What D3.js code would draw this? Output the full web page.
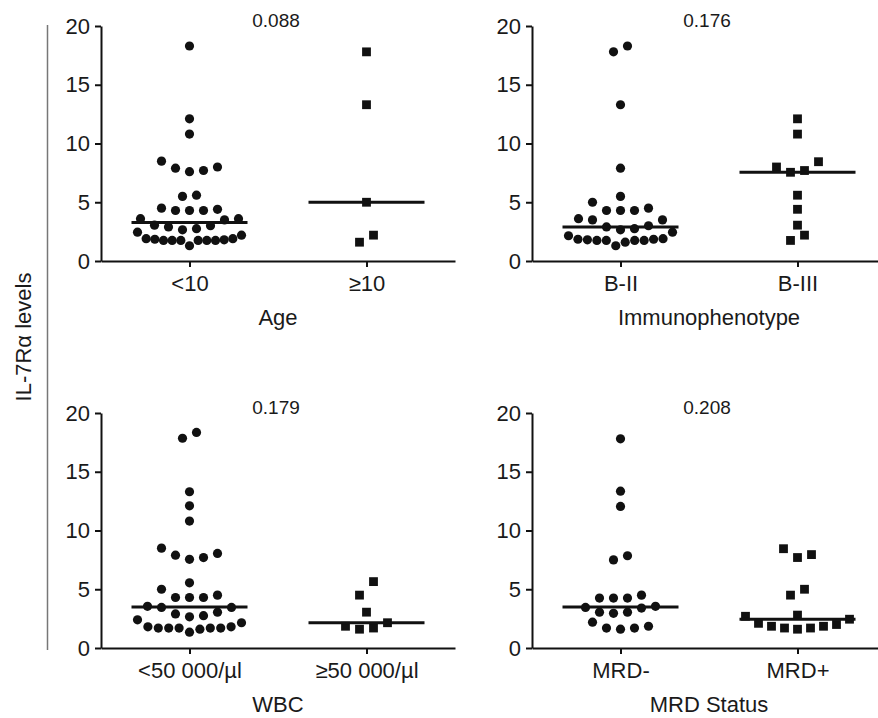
<!DOCTYPE html>
<html>
<head>
<meta charset="utf-8">
<script src="https://cdn.jsdelivr.net/npm/d3@7"></script>
<style>
  body { margin: 0; background: #fff; }
  svg text { font-family: "Liberation Sans", Arial, sans-serif; fill: #1a1a1a; }
</style>
</head>
<body>
<svg id="chart"></svg>
<script>
// values (IL-7Ra levels)
const ageCats = ["<10", "\u226510"];
const ageLt10 = [18.3, 12.1, 10.8, 8.5, 7.9, 7.6, 7.7, 8.0, 5.6, 5.5, 4.5, 4.3, 4.3, 4.3, 4.4,
  3.6, 3.6, 3.0, 2.75, 2.65, 2.9, 3.05, 3.5, 2.45, 1.9, 1.8, 1.75, 1.75, 1.75, 1.3, 1.75,
  1.75, 1.75, 1.85, 1.9, 2.2];
const ageGe10 = [17.8, 13.3, 5.0, 1.6, 2.2];

const phenoCats = ["B-II", "B-III"];
const phenoBII = [18.3, 17.8, 13.3, 7.9, 5.5, 5.0, 4.3, 4.3, 4.3, 4.5, 3.5, 3.0, 2.75, 2.65,
  2.9, 3.5, 3.6, 2.45, 2.15, 1.85, 1.8, 1.75, 1.75, 1.3, 1.6, 1.75, 1.75, 1.85, 1.9];
const phenoBIII = [12.1, 10.8, 8.45, 7.7, 7.55, 8.0, 5.6, 4.4, 3.05, 1.75, 2.2];

const wbcCats = ["<50 000/\u00b5l", "\u226550 000/\u00b5l"];
const wbcLow = [18.35, 17.85, 13.3, 12.1, 10.8, 8.5, 7.9, 7.55, 7.7, 8.05, 5.55, 5.0, 4.3,
  4.3, 4.3, 4.5, 3.45, 3.05, 2.75, 2.65, 2.9, 3.45, 3.55, 2.4, 1.8, 1.7, 1.7, 1.7, 1.35, 1.6,
  1.7, 1.7, 1.8, 2.15];
const wbcHigh = [5.65, 4.5, 3.05, 1.85, 1.6, 1.7, 2.15];

const mrdCats = ["MRD-", "MRD+"];
const mrdNeg = [17.8, 13.35, 12.05, 7.85, 7.5, 4.25, 4.25, 4.25, 4.5, 3.55, 3.4, 3.05, 2.95,
  3.05, 3.45, 2.2, 1.7, 1.6, 1.7, 1.85];
const mrdPos = [8.45, 7.95, 7.7, 5.0, 4.5, 2.8, 2.7, 2.1, 1.85, 1.7, 1.6, 1.7, 1.85, 2.0, 2.45];

const pValues = ["0.088", "0.176", "0.179", "0.208"];
const titles = ["Age", "Immunophenotype", "WBC", "MRD Status"];
const yTicks = [0, 5, 10, 15, 20];

var width = 878, height = 718;
var plotW = 354, plotH = 235;
var panels = [
  { x: 101, y: 261, cats: ageCats, groups: [ageLt10, ageGe10], p: pValues[0], title: titles[0] },
  { x: 532, y: 261, cats: phenoCats, groups: [phenoBII, phenoBIII], p: pValues[1], title: titles[1] },
  { x: 101, y: 648, cats: wbcCats, groups: [wbcLow, wbcHigh], p: pValues[2], title: titles[2] },
  { x: 532, y: 648, cats: mrdCats, groups: [mrdNeg, mrdPos], p: pValues[3], title: titles[3] },
];

var svg = d3.select("#chart").attr("width", width).attr("height", height);

// lay out one column like a prism scatter: rows of close values, spread around the centre
function columnLayout(values, yScale) {
  var sorted = values.slice().sort(d3.ascending);
  var rows = [];
  sorted.forEach(function (v) {
    var last = rows[rows.length - 1];
    if (last && v - last[0] <= 1.16) last.push(v);
    else rows.push([v]);
  });
  var out = [];
  rows.forEach(function (row) {
    var n = row.length;
    var step = n > 1 ? Math.min(14, 104 / (n - 1)) : 0;
    var slots = [];
    if (n % 2 == 1) {
      slots.push(0);
      for (var k = 1; slots.length < n; k++) { slots.push(k); if (slots.length < n) slots.push(-k); }
    } else {
      for (var k = 0.5; slots.length < n; k++) { slots.push(-k); slots.push(k); }
    }
    row.forEach(function (v, i) {
      out.push({ v: v, dx: slots[i] * step, y: yScale(v) });
    });
  });
  return out;
}

panels.forEach(function (pn) {
  var g = svg.append("g");

  var y = d3.scaleLinear().domain([0, 20]).range([pn.y, pn.y - plotH]);
  var x = d3.scalePoint().domain(pn.cats).range([pn.x, pn.x + plotW]).padding(0.5);

  var yAxis = g.append("g")
    .attr("transform", "translate(" + pn.x + ",0)")
    .call(d3.axisLeft(y).tickValues(yTicks).tickSize(6).tickSizeOuter(0).tickPadding(5));
  var xAxis = g.append("g")
    .attr("transform", "translate(0," + pn.y + ")")
    .call(d3.axisBottom(x).tickSize(6).tickSizeOuter(0).tickPadding(8));

  [yAxis, xAxis].forEach(function (a) {
    a.select(".domain").attr("stroke", "#111").attr("stroke-width", 2);
    a.selectAll(".tick line").attr("stroke", "#111").attr("stroke-width", 2);
    a.selectAll(".tick text").style("font-size", "22px").attr("fill", "#1a1a1a");
  });

  pn.groups.forEach(function (vals, gi) {
    var cx = x(pn.cats[gi]);
    var pts = columnLayout(vals, y);
    if (gi == 0) {
      g.selectAll(".c" + gi).data(pts).enter().append("circle")
        .attr("cx", function (d) { return cx + d.dx; })
        .attr("cy", function (d) { return d.y; })
        .attr("r", 4.6)
        .attr("fill", "#111");
    } else {
      g.selectAll(".s" + gi).data(pts).enter().append("rect")
        .attr("x", function (d) { return cx + d.dx - 4.4; })
        .attr("y", function (d) { return d.y - 4.4; })
        .attr("width", 8.8).attr("height", 8.8)
        .attr("fill", "#111");
    }
    var med = d3.median(vals);
    g.append("line")
      .attr("x1", cx - 58).attr("x2", cx + 58)
      .attr("y1", y(med)).attr("y2", y(med))
      .attr("stroke", "#111").attr("stroke-width", 3);
  });

  g.append("text")
    .attr("x", pn.x + plotW / 2 - 2)
    .attr("y", y(20) + 1)
    .attr("text-anchor", "middle")
    .style("font-size", "19px")
    .text(pn.p);

  g.append("text")
    .attr("x", pn.x + plotW / 2)
    .attr("y", pn.y + 64)
    .attr("text-anchor", "middle")
    .style("font-size", "22px")
    .text(pn.title);
});

// shared y label with its bar
svg.append("line")
  .attr("x1", 47.5).attr("x2", 47.5)
  .attr("y1", 25).attr("y2", 650)
  .attr("stroke", "#777").attr("stroke-width", 1.5);

svg.append("text")
  .attr("transform", "translate(23,337) rotate(-90)")
  .attr("text-anchor", "middle")
  .attr("dominant-baseline", "central")
  .style("font-size", "22px")
  .text("IL-7R\u03b1 levels");
</script>
</body>
</html>
